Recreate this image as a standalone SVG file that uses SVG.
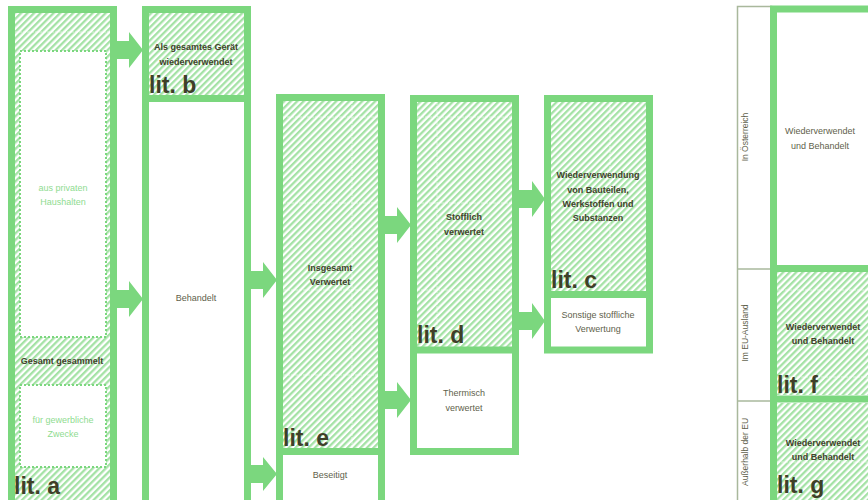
<svg xmlns="http://www.w3.org/2000/svg" width="868" height="500" viewBox="0 0 868 500">
<defs>
<pattern id="hatch" patternUnits="userSpaceOnUse" width="4.6" height="4.6" patternTransform="rotate(45)">
<rect width="4.6" height="4.6" fill="#ffffff"/>
<rect width="2.3" height="4.6" fill="#a4e2a5"/>
</pattern>
<clipPath id="page"><rect width="868" height="500"/></clipPath>
</defs>
<style>
.col{fill:none;stroke:#7bd77e;stroke-width:7}
.div{stroke:#7bd77e;stroke-width:7}
.hatch{fill:url(#hatch)}
.white{fill:#ffffff}
.dot{fill:#ffffff;stroke:#7bd77e;stroke-width:2;stroke-dasharray:2 2}
.grid{stroke:#ffffff;stroke-opacity:0.55;stroke-width:1;stroke-dasharray:3 1}
.arrow{fill:#7bd77e}
text{font-family:"Liberation Sans",Arial,sans-serif;text-anchor:middle}
.b{font-size:9px;font-weight:bold;fill:#42422c}
.n{font-size:9px;fill:#5f5f4c}
.lg{font-size:9px;fill:#8fdc91}
.lit{font-size:23px;font-weight:bold;fill:#3f3f28;text-anchor:start}
.side{fill:none;stroke:#a9b89c;stroke-width:1.5}
.rot{font-size:8.5px;fill:#5f5f4c}
</style>
<g clip-path="url(#page)">
<g id="node-a">
<rect class="hatch" x="15" y="13" width="95" height="497"/>
<line class="grid" x1="15" y1="32" x2="110" y2="32"/>
<rect class="dot" x="20" y="51" width="86" height="286"/>
<rect class="dot" x="20" y="385" width="86" height="82"/>
<rect class="col" x="11.5" y="9.5" width="102" height="500"/>
<text class="lg" x="63" y="191">aus privaten</text>
<text class="lg" x="63" y="205">Haushalten</text>
<text class="b" x="62" y="364">Gesamt gesammelt</text>
<text class="lg" x="63" y="423">für gewerbliche</text>
<text class="lg" x="63" y="437">Zwecke</text>
<text class="lit" x="14" y="494">lit. a</text>
</g>
<g id="node-b">
<rect class="hatch" x="149" y="13" width="95" height="82"/>
<rect class="white" x="149" y="102" width="95" height="408"/>
<rect class="col" x="145.5" y="9.5" width="102" height="500"/>
<line class="div" x1="145.5" y1="98.5" x2="247.5" y2="98.5"/>
<text class="b" x="196" y="50">Als gesamtes Gerät</text>
<text class="b" x="196" y="65">wiederverwendet</text>
<text class="lit" x="149" y="93">lit. b</text>
<text class="n" x="196" y="301">Behandelt</text>
</g>
<g id="node-e">
<rect class="hatch" x="283" y="101" width="95" height="347"/>
<line class="grid" x1="283" y1="117" x2="378" y2="117"/>
<line class="grid" x1="283" y1="203" x2="378" y2="203"/>
<line class="grid" x1="283" y1="290" x2="378" y2="290"/>
<line class="grid" x1="283" y1="375" x2="378" y2="375"/>
<line class="grid" x1="352" y1="101" x2="352" y2="448"/>
<rect class="col" x="279.5" y="97.5" width="102" height="420"/>
<line class="div" x1="279.5" y1="451.5" x2="381.5" y2="451.5"/>
<text class="b" x="330" y="271">Insgesamt</text>
<text class="b" x="330" y="285">Verwertet</text>
<text class="lit" x="283" y="446">lit. e</text>
<text class="n" x="330" y="478">Beseitigt</text>
</g>
<g id="node-d">
<rect class="hatch" x="417" y="102" width="95" height="245"/>
<line class="grid" x1="417" y1="117" x2="512" y2="117"/>
<line class="grid" x1="417" y1="203" x2="512" y2="203"/>
<line class="grid" x1="417" y1="290" x2="512" y2="290"/>
<line class="grid" x1="437" y1="102" x2="437" y2="347"/>
<rect class="col" x="413.5" y="98.5" width="102" height="353"/>
<line class="div" x1="413.5" y1="350" x2="515.5" y2="350"/>
<text class="b" x="464" y="220">Stofflich</text>
<text class="b" x="464" y="235">verwertet</text>
<text class="lit" x="417" y="343">lit. d</text>
<text class="n" x="464" y="396">Thermisch</text>
<text class="n" x="464" y="411">verwertet</text>
</g>
<g id="node-c">
<rect class="hatch" x="551" y="102" width="95" height="189"/>
<line class="grid" x1="610" y1="102" x2="610" y2="291"/>
<rect class="col" x="547.5" y="98.5" width="102" height="251.5"/>
<line class="div" x1="547.5" y1="294.5" x2="649.5" y2="294.5"/>
<text class="b" x="598" y="178">Wiederverwendung</text>
<text class="b" x="598" y="193">von Bauteilen,</text>
<text class="b" x="598" y="207">Werkstoffen und</text>
<text class="b" x="598" y="221">Substanzen</text>
<text class="lit" x="551" y="288">lit. c</text>
<text class="n" x="598" y="318">Sonstige stoffliche</text>
<text class="n" x="598" y="332">Verwertung</text>
</g>
<g id="node-labels">
<rect class="side" x="737.5" y="6.5" width="34" height="510"/>
<line class="side" x1="737.5" y1="269" x2="771.5" y2="269"/>
<line class="side" x1="737.5" y1="401" x2="771.5" y2="401"/>
<text class="rot" transform="translate(748,137) rotate(-90)">In Österreich</text>
<text class="rot" transform="translate(748,333) rotate(-90)">Im EU-Ausland</text>
<text class="rot" transform="translate(748,452) rotate(-90)">Außerhalb der EU</text>
</g>
<g id="node-oesterreich">
<rect class="white" x="777" y="12" width="100" height="253"/>
<text class="n" x="820" y="134">Wiederverwendet</text>
<text class="n" x="820" y="149">und Behandelt</text>
</g>
<g id="node-f">
<rect class="hatch" x="777" y="272" width="100" height="123"/>
<line class="grid" x1="777" y1="290" x2="877" y2="290"/>
<line class="grid" x1="777" y1="377" x2="877" y2="377"/>
<text class="b" x="823" y="330">Wiederverwendet</text>
<text class="b" x="823" y="344">und Behandelt</text>
<text class="lit" x="777" y="393">lit. f</text>
</g>
<g id="node-g">
<rect class="hatch" x="777" y="403" width="100" height="110"/>
<line class="grid" x1="777" y1="462" x2="877" y2="462"/>
<text class="b" x="823" y="446">Wiederverwendet</text>
<text class="b" x="823" y="460">und Behandelt</text>
<text class="lit" x="777" y="493">lit. g</text>
</g>
<g id="frame-right">
<rect class="col" x="773.5" y="9" width="120" height="510"/>
<line class="div" x1="773.5" y1="268.5" x2="880" y2="268.5"/>
<line class="div" x1="773.5" y1="399" x2="880" y2="399"/>
</g>
<g id="connectors">
<polygon class="arrow" points="117,41 129,41 129,32 143,50 129,68 129,59 117,59"/>
<polygon class="arrow" points="117,290 129,290 129,281 143,299 129,317 129,308 117,308"/>
<polygon class="arrow" points="251,271 263,271 263,262 277,280 263,298 263,289 251,289"/>
<polygon class="arrow" points="251,465 263,465 263,457 277,474 263,491 263,483 251,483"/>
<polygon class="arrow" points="385,216 397,216 397,207 411,225 397,243 397,234 385,234"/>
<polygon class="arrow" points="385,391 397,391 397,382 411,400 397,418 397,409 385,409"/>
<polygon class="arrow" points="519,190 532,190 532,181 545,199 532,217 532,208 519,208"/>
<polygon class="arrow" points="519,312 532,312 532,303 545,321 532,339 532,330 519,330"/>
</g>
</g>
</svg>
